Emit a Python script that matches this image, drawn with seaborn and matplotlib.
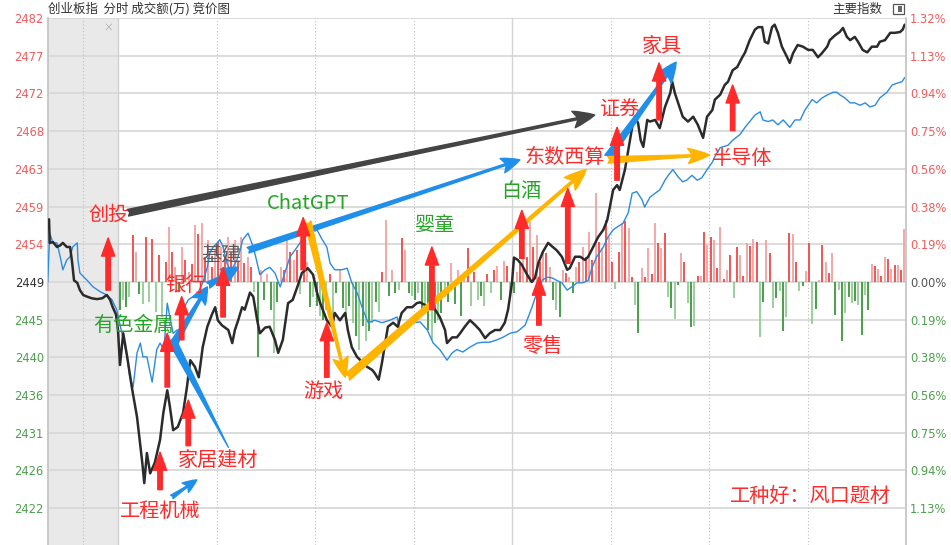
import numpy as np
import pandas as pd
import seaborn as sns
import matplotlib.pyplot as plt
from matplotlib.patches import Rectangle

# ---- data (time = minutes after 09:30, negative = call auction) ----
price_t = [-10.5, -10.4, -9.9, -9.3, -8.8, -8.4, -7.8, -7.3, -7.0, -6.7, -6.2, -5.8, -5.3, -4.7, -4.0, -3.2, -2.4,
           -1.7, -1.2, -0.8, -0.3,
           0.0, 0.3, 0.8, 1.4, 2.1, 2.9, 3.7, 4.0, 4.4, 4.9, 5.6, 6.4, 6.9, 7.5, 7.9, 8.4, 9.1, 9.9, 10.5, 11.0,
           11.7, 12.3, 12.9, 13.6, 14.3, 14.8, 15.2, 15.8, 16.3, 16.8, 17.4, 17.8, 18.3, 18.9, 19.3, 20.1, 20.6,
           21.2, 21.6, 22.4, 23.1, 23.9, 24.4, 25.1, 25.9, 26.6, 27.4, 28.0, 28.9, 29.7, 30.3, 30.8, 31.8, 32.6,
           33.0, 33.8, 34.6, 35.0, 35.6, 36.4, 37.3, 37.9, 38.7, 39.1, 39.7, 40.2, 40.7, 41.1, 41.9, 42.6, 43.2,
           44.0, 44.8, 45.5, 46.0, 46.7, 47.5, 48.3, 49.0, 49.8, 50.1, 50.9, 51.6, 52.1, 52.8, 53.6, 54.4, 55.1,
           55.9, 56.6, 57.4, 58.2, 58.9, 59.4, 60.0, 60.3, 60.9, 61.5, 62.3, 63.0, 63.5, 64.0, 64.7, 65.5, 66.2,
           66.8, 67.6, 68.4, 68.8, 69.6, 70.4, 71.1, 71.6, 72.3, 73.1, 73.9, 74.5, 74.9, 75.4, 76.0, 76.4, 77.2,
           77.7, 78.3, 78.7, 79.2, 79.6, 80.0, 80.6, 81.0, 81.8, 82.5, 83.3, 84.1, 84.4, 84.8, 85.3, 86.0, 86.8,
           87.6, 88.3, 89.1, 89.7, 90.5, 90.9, 91.7, 92.4, 92.9, 93.6, 94.3, 95.0, 95.5, 96.2, 97.0, 97.5, 98.1,
           98.5, 99.0, 99.6, 100.0, 100.5, 101.1, 101.9, 102.3, 102.8, 103.5, 104.3, 105.1, 105.8, 106.6, 107.2,
           108.0, 108.4, 109.2, 109.9, 110.4, 111.0, 111.5, 112.2, 112.7, 113.4, 114.1, 114.8, 115.6, 116.0,
           116.8, 117.6, 118.3, 119.1, 119.5, 119.8]
price = [2457.0, 2454.1, 2454.2, 2453.6, 2453.8, 2454.1, 2453.6, 2453.6, 2451.8, 2449.5, 2449.2, 2448.3, 2447.7,
         2447.5, 2447.3, 2447.2, 2447.3, 2447.7, 2447.1, 2446.2, 2445.3,
         2443.4, 2439.1, 2443.0, 2440.1, 2436.4, 2432.7, 2427.1, 2424.6, 2428.3, 2425.8, 2427.1, 2429.9, 2433.2,
         2436.0, 2434.0, 2431.1, 2431.5, 2433.2, 2436.4, 2439.7, 2438.9, 2437.6, 2441.3, 2443.8, 2445.3, 2446.2,
         2444.6, 2444.0, 2443.7, 2443.4, 2441.8, 2443.4, 2444.6, 2446.2, 2445.9, 2448.0, 2447.5, 2444.6, 2443.0,
         2443.7, 2443.8, 2442.2, 2440.6, 2442.2, 2446.7, 2447.1, 2448.9, 2450.4, 2451.0, 2450.2, 2448.0, 2446.7,
         2444.6, 2443.8, 2445.5, 2444.6, 2445.5, 2443.4, 2441.3, 2440.1, 2439.4, 2438.9, 2438.5, 2438.1, 2437.3,
         2439.4, 2441.8, 2443.8, 2444.3, 2443.8, 2445.5, 2446.2, 2446.2, 2446.7, 2446.8, 2446.5, 2446.2, 2445.9,
         2445.0, 2443.4, 2441.8, 2442.5, 2442.5, 2443.0, 2443.8, 2444.6, 2444.0, 2443.4, 2442.4, 2443.0, 2443.4,
         2443.4, 2444.3, 2445.9, 2449.2, 2452.3, 2452.0, 2451.4, 2450.2, 2449.3, 2449.8, 2451.6, 2453.0, 2454.1,
         2453.6, 2453.2, 2452.4, 2450.8, 2451.0, 2452.4, 2452.4, 2452.0, 2452.4, 2453.5, 2454.8, 2455.7, 2456.9,
         2458.5, 2460.6, 2461.2, 2460.6, 2463.1, 2465.5, 2468.3, 2469.6, 2468.8, 2466.7, 2465.9, 2469.2, 2469.0,
         2469.2, 2468.2, 2470.8, 2472.5, 2473.9, 2472.5, 2471.3, 2469.6, 2469.0, 2469.6, 2468.6, 2467.0, 2469.6,
         2470.4, 2471.7, 2472.3, 2473.5, 2473.9, 2475.3, 2475.7, 2476.8, 2477.5, 2479.0, 2480.3, 2480.6, 2480.6,
         2478.8, 2478.6, 2480.6, 2480.9, 2479.9, 2478.2, 2476.9, 2476.2, 2477.4, 2478.4, 2478.2, 2477.8, 2477.8,
         2476.9, 2477.4, 2478.2, 2479.0, 2479.6, 2480.0, 2480.5, 2479.4, 2479.0, 2479.4, 2478.8, 2477.8, 2477.5,
         2478.2, 2478.2, 2478.8, 2479.0, 2479.9, 2479.9, 2480.0, 2480.3, 2480.9]

avg_t = [-10.7, -10.4, -9.9, -9.3, -8.8, -8.4, -7.8, -7.3, -6.9, -6.2, -6.1, -5.8, -4.7, -3.8, -2.7, -1.7, -0.9, -0.2,
         0.6, 1.4, 1.8, 2.3, 2.9, 3.4, 3.8, 4.4, 5.2, 5.9, 6.4, 7.0, 7.5, 7.9, 8.4, 9.0, 9.4, 9.9, 10.7, 11.4,
         12.2, 12.9, 13.6, 14.0, 14.5, 15.1, 15.5, 16.0, 16.6, 17.1, 17.5, 18.1, 18.6, 19.0, 19.8, 20.6, 21.2,
         21.6, 22.4, 23.1, 23.9, 24.7, 25.4, 26.2, 27.3, 28.2, 29.2, 30.3, 31.1, 31.8, 32.3, 33.0, 34.1, 34.9,
         35.6, 36.4, 37.3, 38.1, 39.1, 40.2, 41.4, 42.5, 42.9, 44.0, 44.9, 46.0, 47.1, 48.0, 49.0, 50.1, 50.9,
         51.6, 52.5, 53.6, 54.7, 55.6, 56.6, 57.7, 58.6, 59.7, 60.8, 62.0, 63.0, 63.8, 64.6, 65.3, 66.1, 66.8,
         67.6, 68.4, 69.1, 69.9, 70.8, 71.6, 72.2, 72.9, 73.9, 74.6, 75.4, 76.1, 76.9, 77.7, 78.3, 79.0, 79.8,
         80.2, 81.0, 81.8, 82.5, 83.3, 83.8, 84.5, 85.3, 86.0, 86.6, 87.4, 88.2, 88.9, 89.7, 90.5, 90.9, 91.7,
         92.9, 93.6, 94.7, 95.5, 96.2, 97.0, 97.8, 98.2, 99.0, 99.7, 100.5, 101.3, 102.3, 103.1, 103.9, 104.6,
         105.7, 106.4, 107.2, 108.1, 108.9, 109.5, 109.9, 110.7, 111.5, 112.2, 113.0, 113.8, 114.5, 115.3,
         116.0, 117.1, 117.9, 118.6, 119.4, 119.8]
avg = [2449.3, 2455.3, 2454.1, 2454.1, 2452.4, 2450.8, 2452.0, 2452.4, 2453.6, 2454.1, 2452.0, 2450.4, 2449.5,
       2448.7, 2448.1, 2447.7, 2447.1, 2445.9,
       2443.0, 2440.1, 2437.6, 2436.4, 2440.6, 2441.8, 2440.1, 2440.1, 2437.0, 2441.0, 2441.8, 2441.0, 2446.7,
       2445.0, 2443.0, 2443.4, 2443.4, 2445.9, 2447.1, 2447.5, 2448.0, 2449.2, 2451.1, 2452.9, 2453.6, 2454.1,
       2454.5, 2453.6, 2451.6, 2450.8, 2451.1, 2452.0, 2453.2, 2454.5, 2455.3, 2453.6, 2451.6, 2450.2, 2450.8,
       2451.1, 2450.4, 2448.7, 2450.4, 2452.4, 2453.6, 2454.7, 2455.4, 2455.7, 2454.5, 2453.6, 2451.6, 2450.8,
       2450.8, 2451.0, 2449.2, 2448.0, 2445.9, 2444.3, 2444.6, 2444.3, 2444.6, 2445.0, 2443.4, 2443.8, 2444.3,
       2444.4, 2443.4, 2441.8, 2441.0, 2439.7, 2440.6, 2441.0, 2440.7, 2441.3, 2441.8, 2441.9, 2441.9, 2442.2,
       2442.5, 2443.0, 2443.2, 2444.0, 2446.1, 2448.0, 2449.5, 2449.9, 2449.8, 2449.5, 2449.2, 2448.3, 2448.7,
       2449.2, 2449.2, 2449.5, 2451.1, 2452.4, 2453.6, 2454.8, 2455.7, 2456.1, 2456.5, 2457.8, 2460.2, 2460.4,
       2459.4, 2458.5, 2459.7, 2460.2, 2460.6, 2461.8, 2462.4, 2463.1, 2462.2, 2461.6, 2461.8, 2462.4, 2461.8,
       2462.1, 2463.1, 2464.0, 2464.7, 2465.8, 2466.1, 2466.7, 2467.4, 2468.3, 2469.0, 2469.8, 2470.2, 2469.2,
       2469.0, 2469.2, 2468.6, 2469.2, 2468.3, 2469.2, 2469.2, 2470.4, 2471.7, 2471.3, 2471.9, 2472.3, 2472.6,
       2472.6, 2472.3, 2471.9, 2471.3, 2471.3, 2471.0, 2471.3, 2470.8, 2471.0, 2471.9, 2472.6, 2473.5, 2473.7,
       2473.9, 2474.4]

# signed half-minute bars (red up / green down), arbitrary units
flow = [-28, -18, -25, -15, 47, 30, -12, -22, 45, -20,
        43, -30, 27, -35, 20, 55, 30, 15, -10, 35,
        22, 10, 18, 57, 48, 59, 25, 42, 15, 32,
        40, 35, 25, 45, 30, 42, 20, 45, 19, 25,
        15, -10, -75, 12, -18, 8, -28, -71, -20, 15,
        12, 47, 30, 22, 32, -12, 35, 20, -25, -15,
        -24, -34, -38, -28, 8, -48, -11, 12, -26, -34,
        -24, -41, -54, -68, -44, -59, -49, -41, -20, -30,
        10, 62, -14, 12, -11, -8, 44, 32, -11, -14,
        -18, -11, -28, -24, -48, -58, -41, -38, -31, -15,
        -20, 19, -22, 12, -34, 8, 34, -24, 10, -18,
        -14, -24, 8, -11, 12, 16, -18, 21, 16, -14,
        -11, 10, 18, 45, 25, 60, 35, 47, 20, 30,
        29, 15, -18, -28, -35, 12, 9, 5, -11, 15,
        20, 35, 25, 50, 22, 89, 40, 34, 62, 45,
        20, -7, 30, 59, 61, 54, 5, -23, -51, 14,
        5, 34, 8, 59, 39, 34, 49, -15, -26, -37,
        -3, 29, 20, -21, -45, -44, 6, 6, 50, 37,
        45, 42, 14, 55, 3, 12, 27, -16, 35, 27,
        6, 39, 36, 43, 40, -55, -20, 42, 29, -26,
        -16, -9, -49, -35, 49, 48, 20, -9, -4, 11,
        39, -42, -27, 2, 37, 20, 9, 29, -33, -8,
        -59, -31, -15, -21, -19, -23, -53, -13, -28, 18,
        16, 13, 6, 25, 23, 13, 17, 17, 12, 53]

left_labels = ["2482", "2477", "2472", "2468", "2463", "2459", "2454", "2449",
               "2445", "2440", "2436", "2431", "2426", "2422"]
right_labels = ["1.32%", "1.13%", "0.94%", "0.75%", "0.56%", "0.38%", "0.19%", "0.00%",
                "0.19%", "0.38%", "0.56%", "0.75%", "0.94%", "1.13%"]
levels = list(range(7, -7, -1))

prev_close = 2449.3
step = 4.63
bar_unit = 0.1228

RED = "#ff2a2a"
GREEN = "#27a327"
UP_C = "#ef4444"
DOWN_C = "#3f9b3f"

# ---- style ----
sns.set_theme(style="white")
plt.rcParams["font.family"] = ["Noto Sans CJK SC", "DejaVu Sans"]

fig = plt.figure(figsize=(9.51, 5.45), dpi=100)
ax = fig.add_axes([48 / 951, 0, (906 - 48) / 951, (545 - 18) / 545])
ax.set_xlim(-10.66, 120.0)
ax.set_ylim(2417.0, prev_close + 7 * step + 0.01)

# auction area
ax.axvspan(-10.66, 0, color="#e9e9e9", zorder=0, lw=0)

# grid
for k in levels:
    ax.axhline(prev_close + k * step, color="#d9d9d9", lw=1.3, zorder=0.5)
for t in [-5.3, 15, 30, 45, 75, 90, 105]:
    ax.axvline(t, color="#bdbdbd", lw=0.8, ls=(0, (1, 2)), zorder=0.5)
ax.axvline(0, color="#d0d0d0", lw=1.0, zorder=0.5)
ax.axvline(60, color="#d4d4d4", lw=1.0, zorder=0.5)

# flow bars
bar_t = np.arange(len(flow)) * 0.5 + 0.25
flow_arr = np.array(flow)
cols = []
for i, f in enumerate(flow):
    if f >= 0:
        cols.append("#f04848" if i % 2 == 0 else "#f6a0a0")
    else:
        cols.append("#3c963c" if i % 2 == 0 else "#92cc92")
ax.vlines(bar_t, prev_close, prev_close + flow_arr * bar_unit, colors=cols, lw=1.3, zorder=1)

# lines
df_avg = pd.DataFrame({"t": avg_t, "v": avg})
df_price = pd.DataFrame({"t": price_t, "v": price})
sns.lineplot(data=df_avg, x="t", y="v", color="#2a8ce0", lw=1.0, ax=ax, zorder=3,
             estimator=None, sort=False)
sns.lineplot(data=df_price, x="t", y="v", color="#2b2b2b", lw=1.8, ax=ax, zorder=3,
             estimator=None, sort=False)

# axes / ticks
ticks = [prev_close + k * step for k in levels]
ax.set_yticks(ticks)
ax.set_yticklabels(left_labels)
ax.set_xticks([])
ax.set_xlabel("")
ax.set_ylabel("")
ax2 = ax.twinx()
ax2.set_ylim(ax.get_ylim())
ax2.set_yticks(ticks)
ax2.set_yticklabels(right_labels)
for a in (ax, ax2):
    a.tick_params(axis="y", length=0, pad=3, labelsize=8.3)
    for sp in a.spines.values():
        sp.set_visible(False)
    a.grid(False)
ax.spines["left"].set_visible(True)
ax.spines["left"].set_color("#c4c4c4")
ax2.spines["right"].set_visible(True)
ax2.spines["right"].set_color("#c4c4c4")
for lab, k in zip(ax.get_yticklabels(), levels):
    lab.set_color("#f25b5b" if k > 0 else ("#333333" if k == 0 else "#4c9f4c"))
    lab.set_family(["DejaVu Sans"])
for lab, k in zip(ax2.get_yticklabels(), levels):
    lab.set_color("#f25b5b" if k > 0 else ("#555555" if k == 0 else "#4c9f4c"))
    lab.set_family(["DejaVu Sans"])


# ---- annotations ----
def up_arrow(t, y0, y1):
    ax.annotate("", xy=(t, y1), xytext=(t, y0), zorder=6,
                arrowprops=dict(arrowstyle="simple,head_length=1.3,head_width=0.95,tail_width=0.32",
                                color=RED, shrinkA=0, shrinkB=0, mutation_scale=10))


def fancy(p0, p1, color, scale=12, hw=0.9, hl=1.1, tw=0.35):
    ax.annotate("", xy=p1, xytext=p0, zorder=5,
                arrowprops=dict(arrowstyle=f"fancy,head_length={hl},head_width={hw},tail_width={tw}",
                                color=color, shrinkA=0, shrinkB=0, mutation_scale=scale))


def label(t, v, s, color):
    ax.text(t, v, s, ha="center", va="center", fontsize=14.5, color=color, zorder=7)


# red up arrows
for t, y0, y1 in [(-1.5, 2448.3, 2454.7), (7.5, 2436.4, 2443.0), (9.7, 2442.2, 2447.5),
                  (16.0, 2445.0, 2451.1), (6.4, 2423.8, 2428.4), (10.7, 2429.2, 2434.8),
                  (28.2, 2450.8, 2457.2), (31.8, 2437.6, 2444.3), (47.8, 2445.9, 2453.6),
                  (61.5, 2452.2, 2458.1), (64.1, 2444.0, 2449.9), (68.5, 2451.6, 2460.8),
                  (76.0, 2461.8, 2468.3), (82.4, 2469.2, 2476.2), (93.6, 2467.9, 2473.5)]:
    up_arrow(t, y0, y1)

BLUE = "#1f8fea"
YEL = "#ffb400"
fancy((1.5, 2457.8), (72.6, 2469.8), "#444444", scale=12, hw=1.0, hl=1.3, tw=0.4)
fancy((19.8, 2453.2), (61.2, 2464.3), BLUE, scale=12, hw=0.9, hl=1.1, tw=0.35)
fancy((8.4, 2441.6), (13.6, 2448.7), BLUE, scale=12, hw=0.9, hl=1.0, tw=0.45)
fancy((13.7, 2448.9), (18.3, 2451.1), BLUE, scale=12, hw=0.9, hl=1.0, tw=0.4)
fancy((8.2, 2422.9), (12.0, 2425.0), BLUE, scale=10, hw=0.8, hl=1.0, tw=0.3)
fancy((74.6, 2464.6), (85.0, 2476.3), BLUE, scale=12, hw=1.0, hl=1.2, tw=0.45)
ax.annotate("", xy=(16.8, 2429.0), xytext=(8.2, 2442.2), zorder=5,
            arrowprops=dict(arrowstyle="wedge,tail_width=0.55,shrink_factor=0.5",
                            color=BLUE, shrinkA=0, shrinkB=0, mutation_scale=10))
fancy((28.9, 2456.7), (34.6, 2437.6), YEL, scale=12, hw=0.9, hl=1.2, tw=0.4)
fancy((34.9, 2437.6), (71.3, 2463.1), YEL, scale=12, hw=1.0, hl=1.3, tw=0.45)
fancy((74.6, 2464.3), (90.1, 2464.9), YEL, scale=12, hw=0.9, hl=1.3, tw=0.4)

# labels
label(-1.5, 2457.5, "创投", RED)
label(2.3, 2444.0, "有色金属", GREEN)
label(10.2, 2448.9, "银行", RED)
label(15.8, 2452.5, "基建", "#5a5a5a")
label(28.9, 2459.0, "ChatGPT", GREEN)
label(31.2, 2435.8, "游戏", RED)
label(48.3, 2456.1, "婴童", GREEN)
label(61.4, 2460.4, "白酒", GREEN)
label(64.7, 2441.4, "零售", RED)
label(68.1, 2464.6, "东数西算", RED)
label(76.4, 2470.4, "证券", RED)
label(82.8, 2478.2, "家具", RED)
label(95.0, 2464.5, "半导体", RED)
label(15.2, 2427.4, "家居建材", RED)
label(6.4, 2421.1, "工程机械", RED)
label(105.4, 2422.9, "工种好：风口题材", RED)
ax.text(-1.5, 2480.6, "×", ha="center", va="center", fontsize=7, color="#aaaaaa", zorder=2)

# header
fig.text(48 / 951, 1 - 9 / 545, "创业板指  分时 成交额(万) 竞价图", fontsize=9, color="#333333",
         ha="left", va="center")
fig.text(882 / 951, 1 - 9 / 545, "主要指数", fontsize=9, color="#333333", ha="right", va="center")
fig.add_artist(Rectangle((893 / 951, 1 - 14 / 545), 11 / 951, 10 / 545, transform=fig.transFigure,
                         fill=False, ec="#555555", lw=0.9))
fig.add_artist(Rectangle((898 / 951, 1 - 12 / 545), 4 / 951, 6 / 545, transform=fig.transFigure,
                         fc="#666666", ec="none"))

fig.savefig("out.png", dpi=100)
